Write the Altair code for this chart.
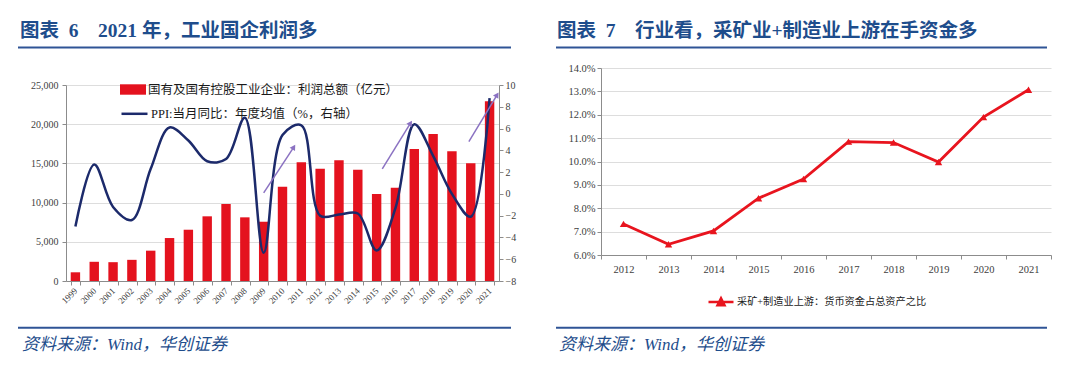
import altair as alt
import pandas as pd

# ---------------- data ----------------
years = ["1999", "2000", "2001", "2002", "2003", "2004", "2005", "2006", "2007", "2008",
         "2009", "2010", "2011", "2012", "2013", "2014", "2015", "2016", "2017", "2018",
         "2019", "2020", "2021"]
profit = [1110, 2450, 2400, 2700, 3870, 5480, 6540, 8250, 9820, 8120,
          7560, 12030, 15140, 14320, 15400, 14200, 11100, 11900, 16840, 18750,
          16540, 15010, 22920]
ppi = [-3.0, 2.7, -1.2, -2.4, 2.3, 6.1, 4.9, 3.0, 3.2, 7.0,
       -5.4, 5.4, 6.3, -2.0, -1.9, -1.8, -5.2, -1.3, 6.4, 3.5,
       0.0, -2.1, 8.8]

# annotation arrows (year position, PPI-axis units)
arrow_x0 = [2009.0, 2015.3, 2019.9]
arrow_y0 = [0.1, 2.3, 4.8]
arrow_x1 = [2010.6, 2016.8, 2021.4]
arrow_y1 = [4.3, 6.5, 9.1]

years_r = ["2012", "2013", "2014", "2015", "2016", "2017", "2018", "2019", "2020", "2021"]
cash_ratio = [7.33, 6.46, 7.03, 8.43, 9.25, 10.85, 10.81, 9.98, 11.90, 13.07]

left_ticks = [0, 5000, 10000, 15000, 20000, 25000]
right_ticks = [-8, -6, -4, -2, 0, 2, 4, 6, 8, 10]
pct_ticks = [6, 7, 8, 9, 10, 11, 12, 13, 14]

NB = "\u00a0"
title_left = "图表" + NB * 2 + "6" + NB * 4 + "2021 年，工业国企利润多"
title_right = "图表" + NB * 2 + "7" + NB * 4 + "行业看，采矿业+制造业上游在手资金多"
source_text = "资料来源：Wind，华创证券"
bar_name = "国有及国有控股工业企业：利润总额（亿元）"
line_name = "PPI:当月同比：年度均值（%，右轴）"
right_name = "采矿+制造业上游：货币资金占总资产之比"

# ---------------- styles ----------------
FONT = "Liberation Serif, Noto Sans CJK SC"
BLUE_T = "#1e4d8c"
BLUE_L = "#2f5496"
RED = "#e4121e"
RED2 = "#e8141e"
NAVY = "#1c2a6b"
PURPLE = "#8b72c2"
AX = "#8c8c8c"
LAB = "#404040"

W1, H1 = 433, 213       # left panel: plot occupies y 17..213
TOP1 = 17
W2, H2 = 450, 187

one = pd.DataFrame({"t": [""]})


def text_mark(txt, x, y, size, color, weight="normal", style="normal"):
    return alt.Chart(pd.DataFrame({"t": [txt]})).mark_text(
        align="left", baseline="middle", font=FONT, fontSize=size,
        color=color, fontWeight=weight, fontStyle=style
    ).encode(text="t:N", x=alt.value(x), y=alt.value(y))


def hline(x1, x2, y, color, w):
    return alt.Chart(one).mark_rule(color=color, strokeWidth=w).encode(
        x=alt.value(x1), x2=alt.value(x2), y=alt.value(y))


# ---------------- left chart ----------------
df_left = pd.DataFrame({"year": years, "profit": profit, "ppi": ppi,
                        "s_bar": bar_name, "s_line": line_name})

x_left = alt.X(
    "year:O", sort=years, title=None,
    scale=alt.Scale(type="band", paddingInner=0.5, paddingOuter=0.25),
    axis=alt.Axis(labelAngle=315, labelAlign="right", labelBaseline="middle",
                  labelFont="Liberation Serif", labelFontSize=9, labelColor=LAB,
                  labelPadding=4, tickBand="extent", tickSize=4, tickColor=AX,
                  domainColor=AX))

bars = alt.Chart(df_left).mark_bar().encode(
    x=x_left,
    y=alt.Y("profit:Q", title=None,
            scale=alt.Scale(domain=[0, 25000], nice=False, range=[H1, TOP1]),
            axis=alt.Axis(orient="left", values=left_ticks,
                          labelExpr="format(datum.value, ',')",
                          labelFont="Liberation Serif", labelFontSize=10,
                          labelColor=LAB, tickSize=4, tickColor=AX,
                          domainColor=AX, labelPadding=4)),
    fill=alt.Fill("s_bar:N", scale=alt.Scale(domain=[bar_name], range=[RED]),
                  legend=alt.Legend(title=None, orient="none", legendX=54, legendY=8.5,
                                    symbolType="M-1,-0.4H1V0.4H-1Z", symbolSize=676,
                                    symbolStrokeWidth=0, labelFont=FONT,
                                    labelFontSize=12.5, labelColor="#1a1a1a",
                                    labelOffset=2, labelLimit=400, padding=0)))

line = alt.Chart(df_left).mark_line(interpolate="catmull-rom", strokeWidth=2.5).encode(
    x=alt.X("year:O", sort=years, bandPosition=0.5),
    y=alt.Y("ppi:Q", title=None,
            scale=alt.Scale(domain=[-8, 10], nice=False, zero=False, range=[H1, TOP1]),
            axis=alt.Axis(orient="right", values=right_ticks,
                          labelFont="Liberation Serif", labelFontSize=10,
                          labelColor=LAB, tickSize=4, tickColor=AX,
                          domainColor=AX, labelPadding=2)),
    stroke=alt.Stroke("s_line:N", scale=alt.Scale(domain=[line_name], range=[NAVY]),
                      legend=alt.Legend(title=None, orient="none", legendX=54, legendY=31.3,
                                        symbolType="stroke", symbolSize=676,
                                        symbolStrokeWidth=2.5, labelFont=FONT,
                                        labelFontSize=12.5, labelColor="#1a1a1a",
                                        labelOffset=2, labelLimit=400, padding=0)))

inner = alt.layer(bars, line).resolve_scale(y="independent")

df_arrows = pd.DataFrame({"x0": arrow_x0, "y0": arrow_y0, "x1": arrow_x1, "y1": arrow_y1})
ax_scale = alt.Scale(domain=[1998.5, 2021.5], nice=False, zero=False)
ay_scale = alt.Scale(domain=[-8, 10], nice=False, zero=False, range=[H1, TOP1])
arrow_lines = alt.Chart(df_arrows).mark_rule(color=PURPLE, strokeWidth=1.5).encode(
    x=alt.X("x0:Q", scale=ax_scale, axis=None), x2="x1:Q",
    y=alt.Y("y0:Q", scale=ay_scale, axis=None), y2="y1:Q")
arrow_heads = alt.Chart(df_arrows).mark_point(
    shape="triangle-up", filled=True, size=40, angle=32, color=PURPLE, opacity=1
).encode(x=alt.X("x1:Q", scale=ax_scale, axis=None),
         y=alt.Y("y1:Q", scale=ay_scale, axis=None))
arrows = alt.layer(arrow_lines, arrow_heads)

# whole-page extent anchor (invisible)
frame = alt.Chart(one).mark_rect(opacity=0).encode(
    x=alt.value(-58), x2=alt.value(1006), y=alt.value(-60), y2=alt.value(303))

left_layer = alt.layer(
    frame,
    text_mark(title_left, -46, -37.5, 19.5, BLUE_T, weight="bold"),
    hline(-48, 445, -20.5, BLUE_L, 2),
    hline(-48, 445, 259.7, BLUE_L, 2),
    text_mark(source_text, -44, 277, 17, BLUE_T, style="italic"),
    inner,
    arrows,
).resolve_scale(x="independent", y="independent").properties(width=W1, height=H1)

# ---------------- right chart ----------------
df_right = pd.DataFrame({"year": years_r, "ratio": cash_ratio, "s": right_name})

line_r = alt.Chart(df_right).mark_line(
    strokeWidth=2.8, color=RED2,
    point=alt.OverlayMarkDef(shape="triangle-up", filled=True, size=55, color=RED2)
).encode(
    x=alt.X("year:O", sort=years_r, title=None, bandPosition=0.5,
            scale=alt.Scale(type="band", paddingInner=0, paddingOuter=0),
            axis=alt.Axis(labelAngle=0, tickBand="extent", labelFont="Liberation Serif",
                          labelFontSize=10.5, labelColor=LAB, labelPadding=5,
                          tickSize=4, tickColor=AX, domainColor=AX)),
    y=alt.Y("ratio:Q", title=None,
            scale=alt.Scale(domain=[6, 14], nice=False, zero=False),
            axis=alt.Axis(values=pct_ticks, labelExpr="format(datum.value, '.1f') + '%'",
                          labelFont="Liberation Serif", labelFontSize=10.5,
                          labelColor=LAB, tickSize=4, tickColor=AX,
                          domainColor=AX, labelPadding=2)),
    color=alt.Color("s:N", scale=alt.Scale(domain=[right_name], range=[RED2]),
                    legend=alt.Legend(title=None, orient="none", legendX=106, legendY=220,
                                      symbolType="M-1,0H1M-0.28,0.26L0,-0.3L0.28,0.26Z",
                                      symbolSize=625, symbolStrokeWidth=2.5,
                                      symbolFillColor=RED2, symbolStrokeColor=RED2,
                                      labelFont=FONT, labelFontSize=10.2,
                                      labelColor="#222222", labelOffset=2,
                                      labelLimit=400, padding=0)))

right_layer = alt.layer(
    text_mark(title_right, -44, -37.5, 19.5, BLUE_T, weight="bold"),
    hline(-45, 446, -20.5, BLUE_L, 2),
    hline(-45, 446, 259.7, BLUE_L, 2),
    text_mark(source_text, -42, 277, 17, BLUE_T, style="italic"),
    line_r,
).properties(width=W2, height=H2)

chart = alt.hconcat(left_layer, right_layer, spacing=102, bounds="flush").resolve_scale(
    color="independent", fill="independent", stroke="independent"
).resolve_legend(
    color="independent", fill="independent", stroke="independent"
).properties(padding=0, background="white").configure_view(stroke=None)

chart.save("out.html", embed_options={"renderer": "svg", "actions": False})
